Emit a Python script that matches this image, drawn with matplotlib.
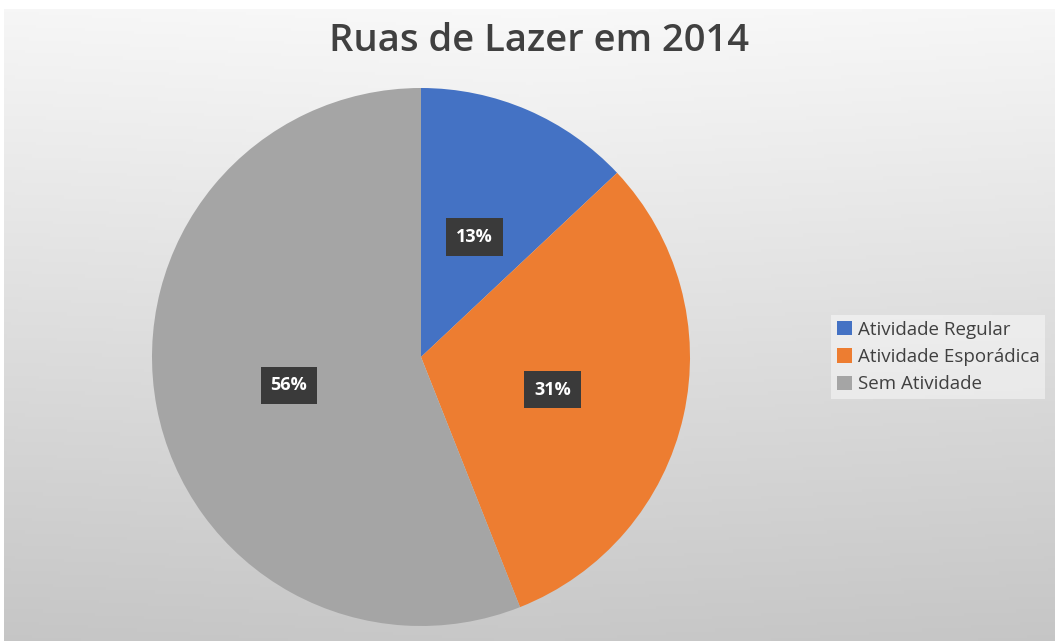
"""
Pie chart: Ruas de Lazer em 2014.
"""
import numpy as np
import matplotlib
matplotlib.use('Agg')
import matplotlib.pyplot as plt
from matplotlib.patches import Patch

labels = ['Atividade Regular', 'Atividade Esporádica', 'Sem Atividade']
values = [13, 31, 56]
colors = ['#4472c4', '#ed7d31', '#a5a5a5']
title = 'Ruas de Lazer em 2014'

plt.rcParams['font.family'] = ['Open Sans', 'DejaVu Sans']

fig = plt.figure(figsize=(10.55, 6.41), dpi=100)
fig.patch.set_facecolor('white')

# gradient background for the chart area
bg = fig.add_axes([4 / 1055, 0, 1 - 4 / 1055, 1 - 9 / 641])
yy, xx = np.mgrid[0:1:200j, 0:1:300j]
shade = 0.975 - 0.19 * yy - 0.02 * np.abs(xx - 0.5)
bg.imshow(np.dstack([shade] * 3), aspect='auto', extent=[0, 1, 1, 0])
bg.set_axis_off()

ax = fig.add_axes([(421 - 269) / 1055, (641 - 357 - 269) / 641,
                   538 / 1055, 538 / 641])
wedges, _, autotexts = ax.pie(values, colors=colors, startangle=90,
                              counterclock=False, autopct='%1.0f%%',
                              pctdistance=0.5, radius=1.0,
                              wedgeprops=dict(linewidth=0))
for t in autotexts:
    t.set_color('white')
    t.set_fontweight('bold')
    t.set_fontsize(13)
    t.set_bbox(dict(boxstyle='square,pad=0.55', facecolor='#3a3a3a',
                    edgecolor='none'))
    x, y = t.get_position()
    t.set_position((x, y - 0.012))
ax.set_xlim(-1, 1)
ax.set_ylim(-1, 1)
ax.set_aspect('equal')

fig.text(539 / 1055, 1 - 41 / 641, title, ha='center', va='center',
         fontsize=27.5, fontweight='semibold', color='#404040')

handles = [Patch(facecolor=c, edgecolor='none') for c in colors]
leg = fig.legend(handles, labels, loc='center left',
                 bbox_to_anchor=(822 / 1055, 1 - 357 / 641),
                 frameon=True, handlelength=0.8,
                 handleheight=0.8, handletextpad=0.3, labelspacing=0.5,
                 borderpad=0.3, fancybox=False,
                 prop={'size': 13.5})
leg.get_frame().set_facecolor('white')
leg.get_frame().set_alpha(0.45)
leg.get_frame().set_edgecolor('none')
for t in leg.get_texts():
    t.set_color('#404040')

fig.savefig('out.png', dpi=100)
